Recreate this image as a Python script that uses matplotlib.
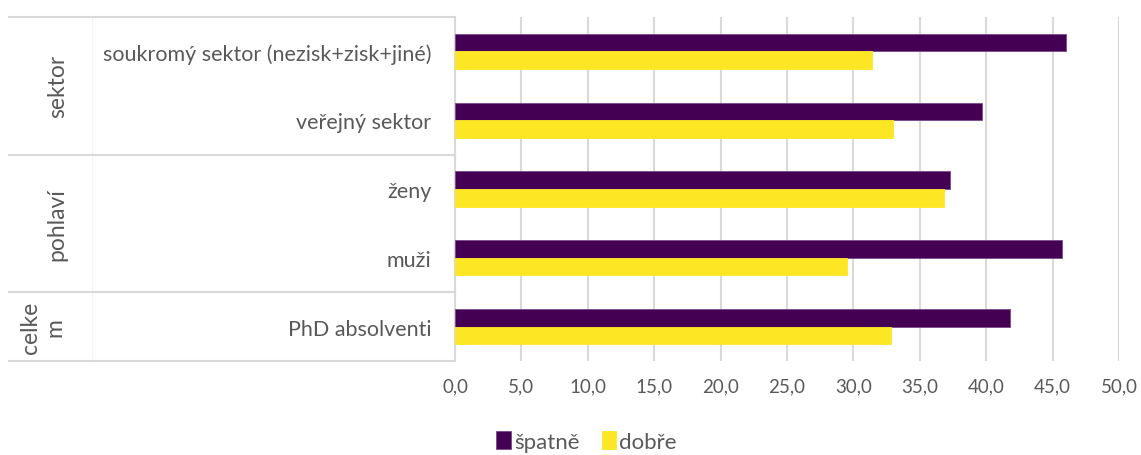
import numpy as np
import matplotlib.pyplot as plt
from matplotlib import transforms

plt.rcParams['font.family'] = ['Lato', 'DejaVu Sans']

# categories from top to bottom
kategorie = ['soukromý sektor (nezisk+zisk+jiné)', 'veřejný sektor', 'ženy', 'muži', 'PhD absolventi']
spatne = [46.0, 39.7, 37.3, 45.7, 41.8]
dobre = [31.4, 33.0, 36.8, 29.5, 32.8]
skupiny = ['sektor', 'pohlaví', 'celke\nm']
skupiny_rozsah = [(2.5, 4.5), (0.5, 2.5), (-0.5, 0.5)]  # y ranges of the groups
xticks = np.arange(0, 50.1, 5)

fialova = '#440154'
zluta = '#FDE725'
seda = '#595959'
mrizka = '#D9D9D9'

fig = plt.figure(figsize=(11.41, 4.56), dpi=100)
ax = fig.add_axes([0.3988, 0.2061, 0.582, 0.7544])

y = np.arange(len(kategorie))[::-1]
h = 0.257
ax.barh(y + h / 2, spatne, height=h, color=fialova, edgecolor='#7a4a8a', linewidth=0.6, label='špatně', zorder=3)
ax.barh(y - h / 2, dobre, height=h, color=zluta, edgecolor=zluta, linewidth=0.6, label='dobře', zorder=3)

ax.set_xlim(0, 50)
ax.set_ylim(-0.5, 4.5)
ax.set_xticks(xticks)
ax.set_xticklabels([f'{t:.1f}'.replace('.', ',') for t in xticks], fontsize=13.5, color=seda)
ax.set_yticks(y)
ax.set_yticklabels(kategorie, fontsize=15.5, color=seda)
ax.tick_params(axis='y', length=0, pad=17)
ax.tick_params(axis='x', length=0, pad=12)

ax.grid(axis='x', color=mrizka, linewidth=1.5, zorder=0)
for s in ['top', 'right', 'bottom']:
    ax.spines[s].set_visible(False)
ax.spines['left'].set_color(mrizka)
ax.spines['left'].set_linewidth(1.5)

# group separators and labels on the left
tr = transforms.blended_transform_factory(ax.transAxes, ax.transData)
x_left = -0.672
for yy in [4.5, 2.5, 0.5, -0.5]:
    ax.plot([x_left, 0], [yy, yy], transform=tr, color=mrizka, lw=1.5, clip_on=False, zorder=1)
ax.plot([-0.547, -0.547], [-0.5, 4.5], transform=tr, color='#f4f4f4', lw=0.8, clip_on=False, zorder=0)

skupiny_x = [-0.599, -0.599, -0.621]
for nazev, (y0, y1), gx in zip(skupiny, skupiny_rozsah, skupiny_x):
    ax.text(gx, (y0 + y1) / 2, nazev, transform=tr, rotation=90, ha='center', va='center',
            fontsize=16.5, color=seda, linespacing=1.25)

leg = ax.legend(loc='center', bbox_to_anchor=(0.514, 0.03), bbox_transform=fig.transFigure, ncol=2,
                frameon=False, fontsize=16, handlelength=0.65, handleheight=0.85, handletextpad=0.15,
                columnspacing=1.0)
for t in leg.get_texts():
    t.set_color(seda)

fig.savefig('out.png', dpi=100)
